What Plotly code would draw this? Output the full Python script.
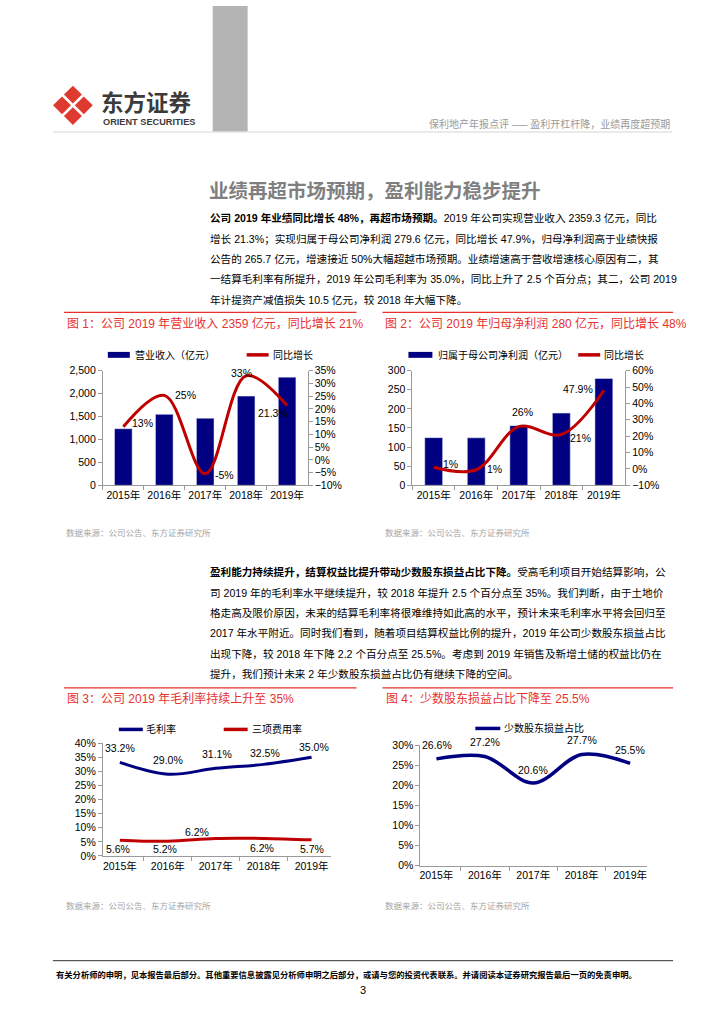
import plotly.graph_objects as go

W, H = 724, 1024
def X(p): return p / W
def Y(p): return 1 - p / H

# ---------------- data ----------------
years = ["2015年", "2016年", "2017年", "2018年", "2019年"]
revenue = [1234.6, 1547.5, 1463.4, 1945.6, 2359.3]
revenue_yoy = [13.0, 25.3, -5.5, 33.0, 21.3]
revenue_yoy_text = ["13%", "25%", "-5%", "33%", "21.3%"]
profit = [124.8, 124.2, 156.2, 189.0, 279.6]
profit_yoy = [1.0, -0.5, 25.8, 21.0, 47.9]
profit_yoy_text = ["1%", "1%", "26%", "21%", "47.9%"]
gross_margin = [33.2, 29.0, 31.1, 32.5, 35.0]
expense_ratio = [5.6, 5.2, 6.2, 6.2, 5.7]
minority_share = [26.6, 27.2, 20.6, 27.7, 25.5]

para1 = [
    "<b>公司 2019 年业绩同比增长 48%，再超市场预期。</b>2019 年公司实现营业收入 2359.3 亿元，同比",
    "增长 21.3%；实现归属于母公司净利润 279.6 亿元，同比增长 47.9%，归母净利润高于业绩快报",
    "公告的 265.7 亿元，增速接近 50%大幅超越市场预期。业绩增速高于营收增速核心原因有二，其",
    "一结算毛利率有所提升，2019 年公司毛利率为 35.0%，同比上升了 2.5 个百分点；其二，公司 2019",
    "年计提资产减值损失 10.5 亿元，较 2018 年大幅下降。",
]
para2 = [
    "<b>盈利能力持续提升，结算权益比提升带动少数股东损益占比下降。</b>受高毛利项目开始结算影响，公",
    "司 2019 年的毛利率水平继续提升，较 2018 年提升 2.5 个百分点至 35%。我们判断，由于土地价",
    "格走高及限价原因，未来的结算毛利率将很难维持如此高的水平，预计未来毛利率水平将会回归至",
    "2017 年水平附近。同时我们看到，随着项目结算权益比例的提升，2019 年公司少数股东损益占比",
    "出现下降，较 2018 年下降 2.2 个百分点至 25.5%。考虑到 2019 年销售及新增土储的权益比仍在",
    "提升，我们预计未来 2 年少数股东损益占比仍有继续下降的空间。",
]

# ---------------- styles ----------------
NAVY = "#000080"
RED = "#c00000"
TITLE_RED = "#e8312f"
AXIS = "#9a9a9a"
FONT = "Liberation Sans, Noto Sans CJK SC, sans-serif"
CJK = "Noto Sans CJK SC, sans-serif"

fig = go.Figure()

# Figure 1
fig.add_trace(go.Bar(x=years, y=revenue, marker_color=NAVY, width=0.43,
                     xaxis="x", yaxis="y", name="营业收入（亿元）"))
fig.add_trace(go.Scatter(x=years, y=revenue_yoy, mode="lines",
                         line=dict(color=RED, width=3, shape="spline", smoothing=1.0),
                         xaxis="x", yaxis="y2", name="同比增长"))
# Figure 2
fig.add_trace(go.Bar(x=years, y=profit, marker_color=NAVY, width=0.42,
                     xaxis="x2", yaxis="y3", name="归属于母公司净利润（亿元）"))
fig.add_trace(go.Scatter(x=years, y=profit_yoy, mode="lines",
                         line=dict(color=RED, width=3, shape="spline", smoothing=1.0),
                         xaxis="x2", yaxis="y4", name="同比增长"))
# Figure 3
fig.add_trace(go.Scatter(x=years, y=gross_margin, mode="lines",
                         line=dict(color=NAVY, width=3, shape="spline", smoothing=1.0),
                         xaxis="x3", yaxis="y5", name="毛利率"))
fig.add_trace(go.Scatter(x=years, y=expense_ratio, mode="lines",
                         line=dict(color=RED, width=3, shape="spline", smoothing=1.0),
                         xaxis="x3", yaxis="y5", name="三项费用率"))
# Figure 4
fig.add_trace(go.Scatter(x=years, y=minority_share, mode="lines",
                         line=dict(color=NAVY, width=3.5, shape="spline", smoothing=1.0),
                         xaxis="x4", yaxis="y6", name="少数股东损益占比"))

tickfont = dict(family=FONT, size=10.5, color="#000")

def xax(d0, d1, anchor):
    return dict(domain=[X(d0), X(d1)], anchor=anchor, type="category",
                showline=True, linecolor=AXIS, linewidth=1, tickangle=0,
                ticks="outside", tickson="boundaries", ticklen=4, tickcolor=AXIS,
                tickfont=tickfont, showgrid=False, zeroline=False, fixedrange=True)

def yax(t, b, anchor, rng, dtick, suffix="", fmt=None, side="left", overlay=None):
    d = dict(range=rng, dtick=dtick, ticksuffix=suffix, side=side, anchor=anchor,
             showline=True, linecolor=AXIS, linewidth=1, ticks="outside", ticklen=4,
             tickcolor=AXIS, tickfont=tickfont, showgrid=False, zeroline=False,
             fixedrange=True)
    if fmt:
        d["tickformat"] = fmt
    if overlay:
        d["overlaying"] = overlay
    else:
        d["domain"] = [Y(b), Y(t)]
    return d

fig.update_layout(
    width=W, height=H, autosize=False, showlegend=False,
    margin=dict(l=0, r=0, t=0, b=0),
    paper_bgcolor="white", plot_bgcolor="white",
    xaxis=xax(102, 307, "y"),
    yaxis=yax(369, 485, "x", [0, 2500], 500, fmt=","),
    yaxis2=yax(369, 485, "x", [-10, 35], 5, suffix="%", side="right", overlay="y"),
    xaxis2=xax(412, 625, "y3"),
    yaxis3=yax(369, 485, "x2", [0, 300], 50),
    yaxis4=yax(369, 485, "x2", [-10, 60], 10, suffix="%", side="right", overlay="y3"),
    xaxis3=xax(102, 330, "y5"),
    yaxis5=yax(746, 860, "x3", [0, 40], 5, suffix="%"),
    xaxis4=xax(420, 647, "y6"),
    yaxis6=yax(748, 870, "x4", [0, 30], 5, suffix="%"),
)

ann = []
shapes = []

def text(x, y, s, size=11, color="#000", anchor="left", family=FONT):
    ann.append(dict(x=X(x), y=Y(y), xref="paper", yref="paper", text=s,
                    showarrow=False, xanchor=anchor, yanchor="middle",
                    font=dict(family=family, size=size, color=color)))

def hline(x0, x1, y, color, width=1):
    shapes.append(dict(type="line", xref="paper", yref="paper",
                       x0=X(x0), x1=X(x1), y0=Y(y), y1=Y(y),
                       line=dict(color=color, width=width)))

def rect(x0, x1, y0, y1, color):
    shapes.append(dict(type="rect", xref="paper", yref="paper",
                       x0=X(x0), x1=X(x1), y0=Y(y1), y1=Y(y0),
                       fillcolor=color, line=dict(width=0)))

# ---------- header ----------
rect(212, 247, 0, 127, "#b4b4b4")
hline(52, 672, 127.5, "#d6d6d6", 1.2)
LOGO = "#df3a30"
cx, cy, d, r = 72, 100.5, 10.9, 9.0
for ox, oy in [(0, -d), (d, 0), (0, d), (-d, 0)]:
    px_, py_ = cx + ox, cy + oy
    path = "M {} {} L {} {} L {} {} L {} {} Z".format(
        X(px_), Y(py_ - r), X(px_ + r), Y(py_), X(px_), Y(py_ + r), X(px_ - r), Y(py_))
    shapes.append(dict(type="path", xref="paper", yref="paper", path=path,
                       fillcolor=LOGO, line=dict(width=0)))
text(98, 96, "<b>东方证券</b>", size=22.5, color="#3b3b3b", family=CJK)
text(100, 117.5, "<b>ORIENT SECURITIES</b>", size=9.2, color="#3b3b3b", family=FONT)
text(672, 119, "保利地产年报点评 —— 盈利开杠杆降，业绩再度超预期", size=10,
     color="#9a9a9a", anchor="right", family=CJK)

# ---------- section title ----------
text(206, 186, "<b>业绩再超市场预期，盈利能力稳步提升</b>", size=19.5,
     color="#7f7f7f", family=CJK)

# ---------- paragraphs ----------
for i, line in enumerate(para1):
    text(207, 215 + 20.5 * i, line, size=10.6)
for i, line in enumerate(para2):
    text(207, 573 + 20.6 * i, line, size=10.6)

# ---------- figure titles ----------
hline(63, 356, 310, TITLE_RED, 1.2)
hline(382, 673, 310, TITLE_RED, 1.2)
hline(63, 356, 690, TITLE_RED, 1.2)
hline(382, 673, 690, TITLE_RED, 1.2)
text(64, 321, "图 1：公司 2019 年营业收入 2359 亿元，同比增长 21%", size=12, color=TITLE_RED)
text(383, 321, "图 2：公司 2019 年归母净利润 280 亿元，同比增长 48%", size=12, color=TITLE_RED)
text(64, 701, "图 3：公司 2019 年毛利率持续上升至 35%", size=12, color=TITLE_RED)
text(384, 701, "图 4：少数股东损益占比下降至 25.5%", size=12, color=TITLE_RED)

# ---------- sources ----------
for sx, sy in [(63, 532), (383, 532), (63, 910), (383, 910)]:
    text(sx, sy, "数据来源：公司公告、东方证券研究所", size=8.5, color="#a6a6a6", family=CJK)

# ---------- manual legends ----------
rect(107, 129, 350, 356, NAVY)
text(132, 353, "营业收入（亿元）", size=10)
hline(246, 268, 353, RED, 3.5)
text(270, 353, "同比增长", size=10)

rect(408, 432, 350, 356, NAVY)
text(436, 353, "归属于母公司净利润（亿元）", size=10)
hline(578, 600, 353, RED, 3.5)
text(602, 353, "同比增长", size=10)

hline(118, 142, 732, NAVY, 3.5)
text(143, 732, "毛利率", size=10)
hline(223, 247, 732, RED, 3.5)
text(249, 732, "三项费用率", size=10)

hline(475, 500, 731, NAVY, 3.5)
text(502, 731, "少数股东损益占比", size=10)

# ---------- data labels ----------
lblfont = dict(family=FONT, size=10.5, color="#000")

def labels(xref, yref, vals, texts, shifts):
    for cat, v, t, (dx, dy) in zip(years, vals, texts, shifts):
        ann.append(dict(x=cat, y=v, xref=xref, yref=yref, text=t, showarrow=False,
                        xanchor="center", yanchor="middle", xshift=dx, yshift=dy,
                        font=lblfont))

labels("x", "y2", revenue_yoy, revenue_yoy_text,
       [(19, 4), (21, 0), (19, -1), (-5, 3), (-14, -7)])
labels("x2", "y4", profit_yoy, profit_yoy_text,
       [(17, 3), (18, 1), (4, 15), (19, -3), (-26, 1)])
labels("x3", "y5", gross_margin, ["{:.1f}%".format(v) for v in gross_margin],
       [(0, 14), (0, 14), (1, 14), (1, 11), (2, 10)])
labels("x3", "y5", expense_ratio, ["{:.1f}%".format(v) for v in expense_ratio],
       [(-2, -9), (-3, -8), (-19, 6), (-2, -10), (0, -9)])
labels("x4", "y6", minority_share, ["{:.1f}%".format(v) for v in minority_share],
       [(1, 14), (0, 14), (0, 13), (0, 14), (0, 13)])

# ---------- footer ----------
hline(52, 673, 966, "#333333", 1)
text(53, 979, "<b>有关分析师的申明，见本报告最后部分。其他重要信息披露见分析师申明之后部分，或请与您的投资代表联系。并请阅读本证券研究报告最后一页的免责申明。</b>",
     size=8.3, color="#000", family=CJK)
text(362, 996, "3", size=11, color="#000", anchor="center")

fig.update_layout(annotations=ann, shapes=shapes)
fig.write_html("out.html",
               config={"displayModeBar": False, "staticPlot": True},
               post_script="document.body.style.margin='0';document.body.style.overflow='hidden';")
